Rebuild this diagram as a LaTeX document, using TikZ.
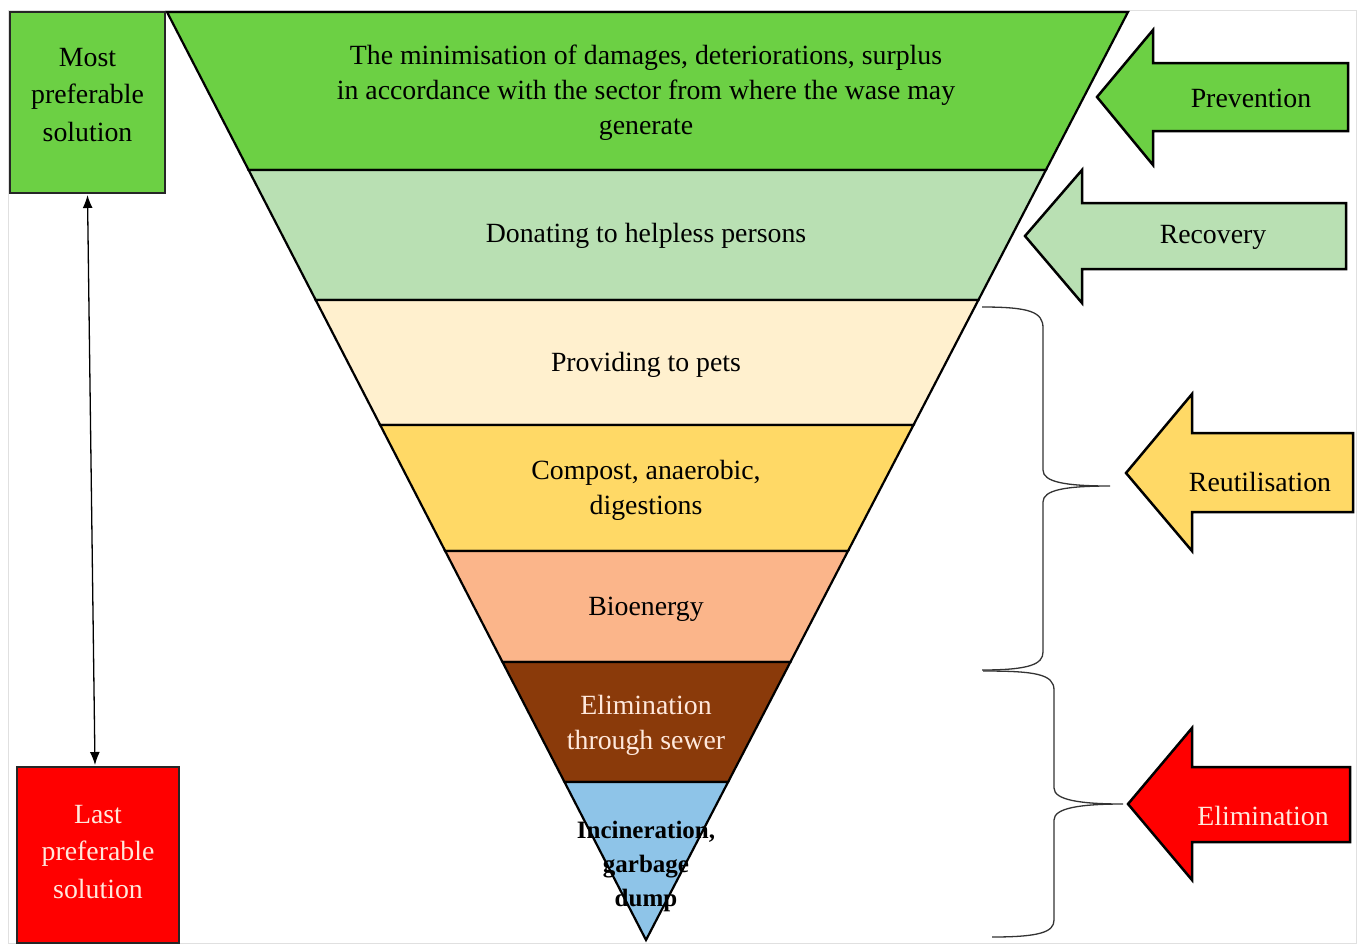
\documentclass[tikz,border=0pt]{standalone}
\usepackage{fontspec}
\setmainfont{Liberation Serif}
\usetikzlibrary{arrows.meta,calc}
\definecolor{cGreen}{HTML}{6CD044}
\definecolor{cLGreen}{HTML}{B9E0B3}
\definecolor{cCream}{HTML}{FFF0CE}
\definecolor{cYellow}{HTML}{FFD966}
\definecolor{cSalmon}{HTML}{FBB58A}
\definecolor{cBrown}{HTML}{8A3A0A}
\definecolor{cBlue}{HTML}{8EC4E8}
\definecolor{cRed}{HTML}{FF0000}
\definecolor{cPale}{HTML}{FFE8DC}
\definecolor{cFrame}{HTML}{E0E0E0}
\begin{document}
\begin{tikzpicture}[x=1pt,y=-1pt,
  band/.style={draw=black,line width=2.2pt,line join=miter},
  lbl/.style={align=center,font=\fontsize{27.8}{35}\selectfont,inner sep=0pt},
  boxlbl/.style={align=center,font=\fontsize{27.8}{37.5}\selectfont,inner sep=0pt},
  sidebox/.style={draw=black!85,line width=1.2pt},
  blockarrow/.style={draw=black,line width=2.5pt,line join=miter},
  bracepath/.style={draw=black!80,line width=1.3pt}]
\useasboundingbox (0,0) rectangle (1360,943);
% faint frame
\draw[cFrame,line width=1pt] (8,10) rectangle (1356,943);
% pyramid bands
\filldraw[band,fill=cGreen]  (167,12) -- (1128,12) -- (1045.9,170) -- (248.6,170) -- cycle;
\filldraw[band,fill=cLGreen] (248.6,170) -- (1045.9,170) -- (978.4,300) -- (315.7,300) -- cycle;
\filldraw[band,fill=cCream]  (315.7,300) -- (978.4,300) -- (913.5,425) -- (380.2,425) -- cycle;
\filldraw[band,fill=cYellow] (380.2,425) -- (913.5,425) -- (848.0,551) -- (445.2,551) -- cycle;
\filldraw[band,fill=cSalmon] (445.2,551) -- (848.0,551) -- (790.4,662) -- (502.5,662) -- cycle;
\filldraw[band,fill=cBrown]  (502.5,662) -- (790.4,662) -- (728.1,782) -- (564.5,782) -- cycle;
\filldraw[band,fill=cBlue]   (564.5,782) -- (728.1,782) -- (646,940) -- cycle;
% band texts
\node[lbl] (t1) at (646,92.5) {The minimisation of damages, deteriorations, surplus\\in accordance with the sector from where the wase may\\generate};
\node[lbl] (t2) at (646,236) {Donating to helpless persons};
\node[lbl] (t3) at (646,365) {Providing to pets};
\node[lbl] (t4) at (646,490) {Compost, anaerobic,\\digestions};
\node[lbl] (t5) at (646,609) {Bioenergy};
\node[lbl,text=cPale] (t6) at (646,725) {Elimination\\through sewer};
\node[lbl,font=\bfseries\fontsize{25}{34}\selectfont] (t7) at (646,866) {Incineration,\\garbage\\dump};
% side boxes
\filldraw[sidebox,fill=cGreen] (10,12) rectangle (165,193);
\node[boxlbl] (most) at (87.5,95) {Most\\preferable\\solution};
\coordinate (mostS) at (87.5,195);
\filldraw[sidebox,fill=cRed] (17,767) rectangle (179,943);
\node[boxlbl,text=cPale] (last) at (98,852) {Last\\preferable\\solution};
\coordinate (lastN) at (95,765);
\draw[line width=1.3pt,{Latex[length=13pt,width=10pt]}-{Latex[length=13pt,width=10pt]}] (mostS) -- (lastN);
% block arrows
\filldraw[blockarrow,fill=cGreen] (1097,97) -- (1153,30) -- (1153,63) -- (1348,63) -- (1348,131) -- (1153,131) -- (1153,165) -- cycle;
\node[lbl] (prev) at (1251,98) {Prevention};
\filldraw[blockarrow,fill=cLGreen] (1025,236) -- (1082,170) -- (1082,203) -- (1346,203) -- (1346,269) -- (1082,269) -- (1082,303) -- cycle;
\node[lbl] (reco) at (1213,237) {Recovery};
\filldraw[blockarrow,fill=cYellow] (1126,473) -- (1192,394) -- (1192,433) -- (1353,433) -- (1353,512) -- (1192,512) -- (1192,551) -- cycle;
\node[lbl] (reut) at (1260,482) {Reutilisation};
\filldraw[blockarrow,fill=cRed] (1128,804) -- (1192,728) -- (1192,767) -- (1350,767) -- (1350,842) -- (1192,842) -- (1192,880) -- cycle;
\node[lbl,text=cPale] (elim) at (1263,816) {Elimination};
% braces
\coordinate (b1top) at (982,307);
\coordinate (b1tip) at (1110,486);
\coordinate (b1bot) at (982,670);
\draw[bracepath] (b1top) .. controls (1030,307) and (1043,312) .. (1043,328)
  -- (1043,470) .. controls (1043,482) and (1065,486) .. (b1tip)
  .. controls (1065,486) and (1043,490) .. (1043,502)
  -- (1043,652) .. controls (1043,664) and (1030,670) .. (b1bot);
\coordinate (b2top) at (983,671);
\coordinate (b2tip) at (1123,804);
\coordinate (b2bot) at (992,937);
\draw[bracepath] (b2top) .. controls (1035,671) and (1054,674) .. (1054,690)
  -- (1054,788) .. controls (1054,800) and (1080,804) .. (b2tip)
  .. controls (1080,804) and (1054,808) .. (1054,820)
  -- (1054,920) .. controls (1054,932) and (1040,937) .. (b2bot);
\end{tikzpicture}
\end{document}
